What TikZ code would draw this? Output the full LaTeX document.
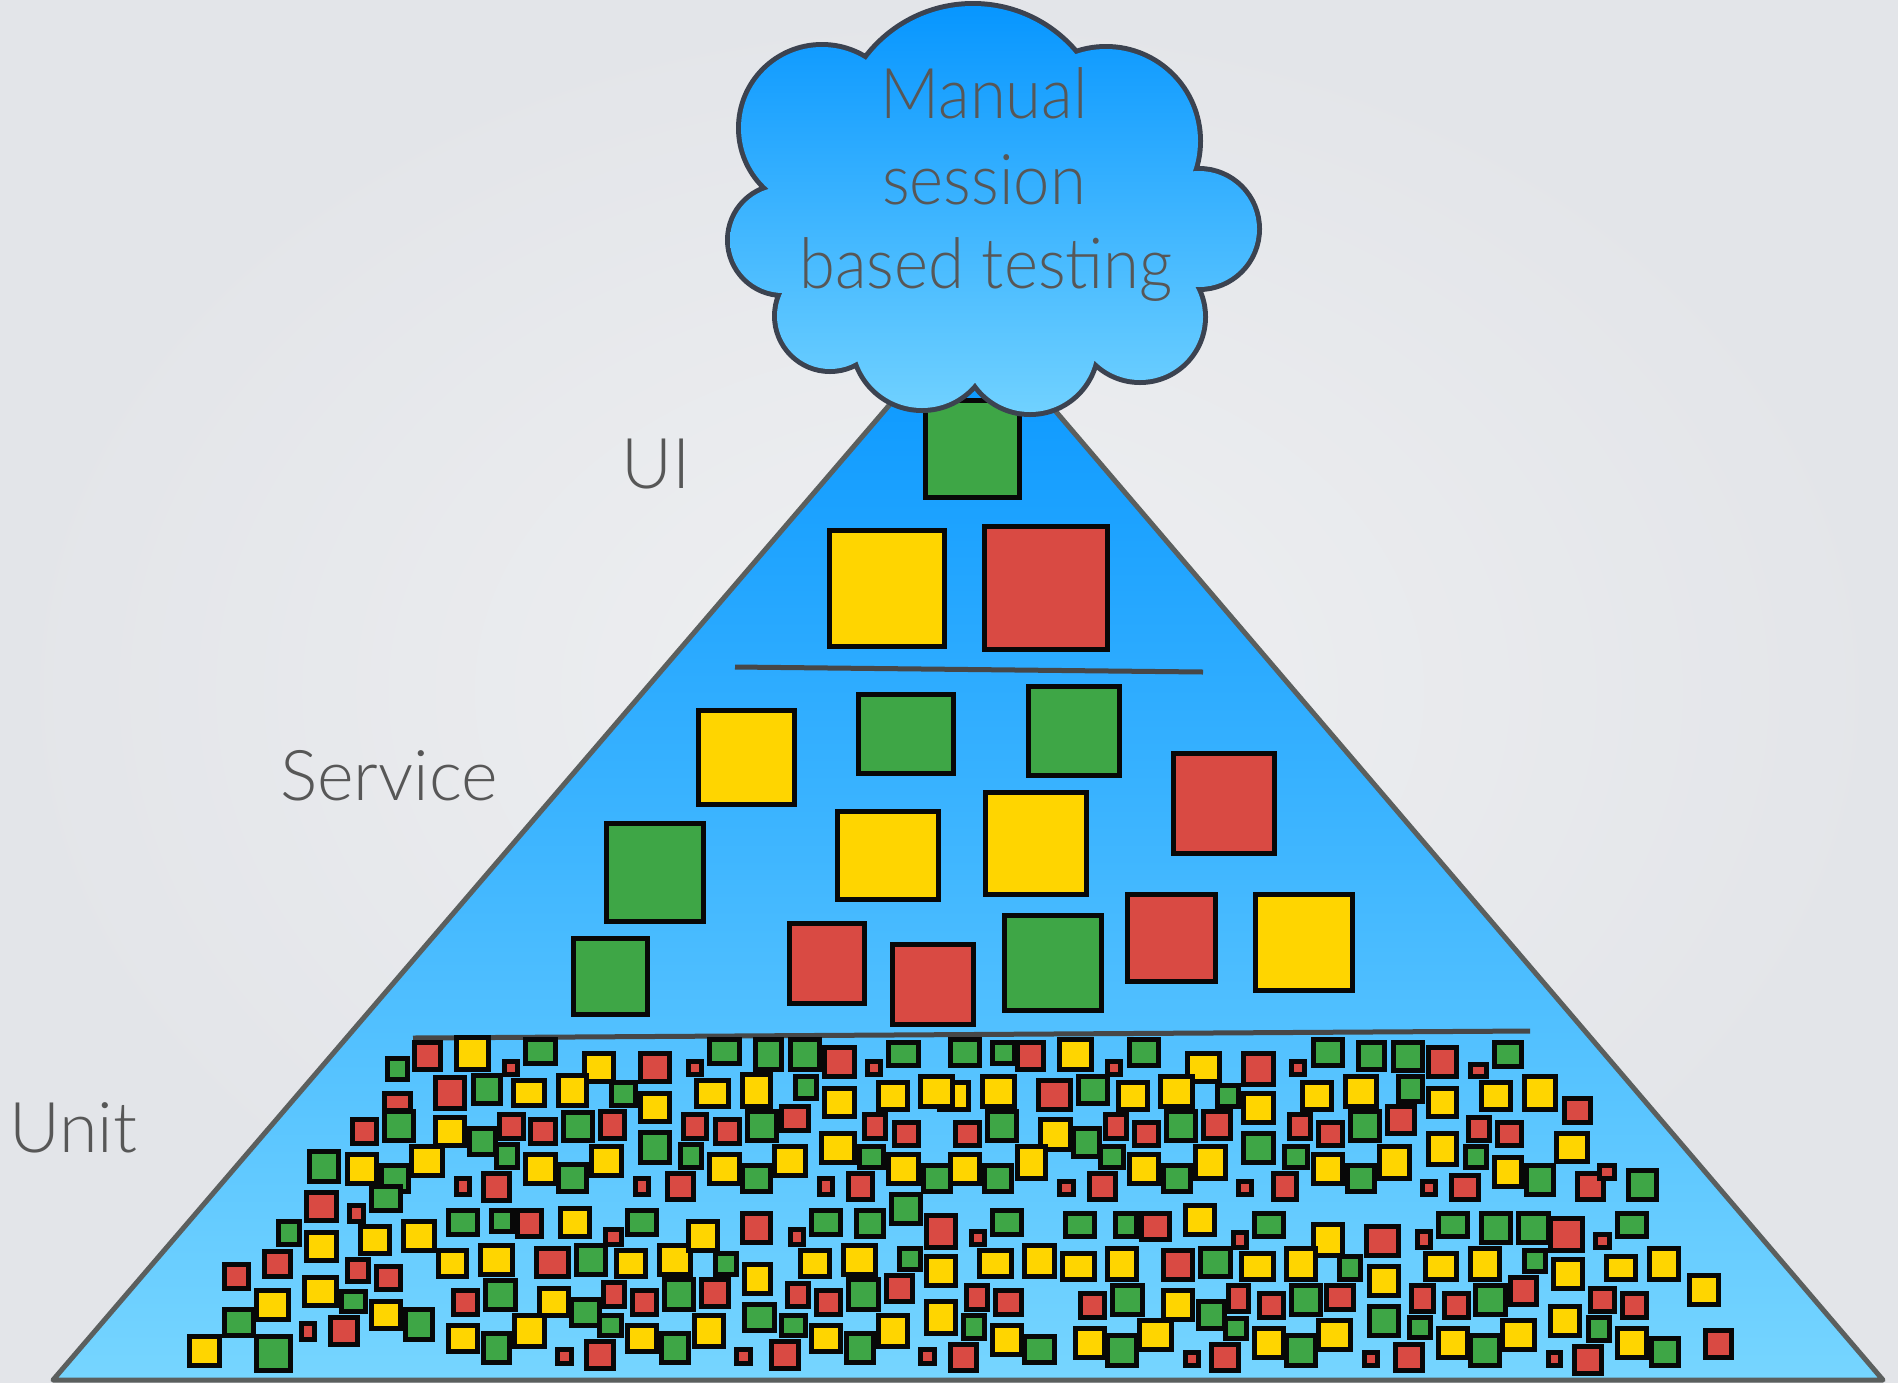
\documentclass[tikz,border=0pt]{standalone}
\usepackage{fontspec}
\setmainfont{Lato}[UprightFont={* Light}]
\newfontfamily\cloudfont{Lato}[UprightFont={* Light}, FakeStretch=0.93]
\definecolor{bgin}{HTML}{EFF0F2}
\definecolor{bgout}{HTML}{E3E5E9}
\definecolor{pyrtop}{HTML}{0796FF}
\definecolor{pyrbot}{HTML}{76D5FF}
\definecolor{cloudtop}{HTML}{0796FF}
\definecolor{cloudbot}{HTML}{70D1FF}
\definecolor{cloudline}{HTML}{3C4350}
\definecolor{edgegray}{HTML}{5B5F5E}
\definecolor{sepgray}{HTML}{474747}
\definecolor{txtgray}{HTML}{575757}
\definecolor{tg}{HTML}{3EA646}
\definecolor{ty}{HTML}{FFD500}
\definecolor{tr}{HTML}{D94A43}
\definecolor{tb}{HTML}{080808}
% one test tile: outer corners #1,#2 and #3,#4, fill #5; \ins is half the border width
\newcommand\tsq[5]{\draw[tile, fill=#5] ({#1+\ins},{#2+\ins}) rectangle ({#3-\ins},{#4-\ins});}
\begin{document}
\begin{tikzpicture}[x=1pt,y=-1pt,
  tile/.style={draw=tb, line width=5pt},
  edge/.style={draw=edgegray, line width=5pt, line join=round},
  sepline/.style={draw=sepgray, line width=5pt},
  lbl/.style={text=txtgray, inner sep=0pt, font=\fontsize{70}{85}\selectfont},
  cloudlbl/.style={lbl, font=\cloudfont\fontsize{70}{85}\selectfont}]
\useasboundingbox (0,0) rectangle (1898,1382);
\shade[inner color=bgin, outer color=bgout] (0,0) rectangle (1898,1382);

% pyramid
\coordinate (apex) at (970,311);
\coordinate (bl) at (53,1380);
\coordinate (br) at (1883,1380);
\shade[top color=pyrtop, bottom color=pyrbot] (apex) -- (bl) -- (br) -- cycle;
\draw[edge] (apex) -- (bl) -- (br) -- cycle;

% layer separators
\coordinate (s1a) at (735,667);
\coordinate (s1b) at (1203,672);
\coordinate (s2a) at (413,1038);
\coordinate (s2b) at (1530,1031);
\draw[sepline] (s1a) -- (s1b);
\draw[sepline] (s2a) -- (s2b);

% UI and service tests
\begin{scope}
\def\ins{2.5}
\tsq{923}{398}{1022}{500}{tg}
\tsq{827}{528}{947}{649}{ty}
\tsq{982}{524}{1110}{652}{tr}
\tsq{696}{708}{797}{807}{ty}
\tsq{856}{692}{956}{776}{tg}
\tsq{1026}{684}{1122}{778}{tg}
\tsq{1171}{751}{1277}{856}{tr}
\tsq{604}{821}{706}{924}{tg}
\tsq{835}{809}{941}{902}{ty}
\tsq{983}{790}{1089}{897}{ty}
\tsq{1125}{892}{1218}{984}{tr}
\tsq{1253}{892}{1355}{993}{ty}
\tsq{571}{936}{650}{1017}{tg}
\tsq{787}{921}{867}{1006}{tr}
\tsq{890}{942}{976}{1027}{tr}
\tsq{1002}{913}{1104}{1013}{tg}
\end{scope}

% unit tests, first quarter
\begin{scope}[shift={(180,1030)}, scale=1/3]
\def\ins{7.5}
\tsq{615}{78}{690}{155}{tg}
\tsq{695}{30}{788}{125}{tr}
\tsq{822}{15}{932}{125}{ty}
\tsq{965}{87}{1020}{140}{tr}
\tsq{1030}{22}{1133}{108}{tg}
\tsq{1205}{62}{1308}{162}{ty}
\tsq{607}{183}{700}{250}{tr}
\tsq{760}{135}{860}{243}{tr}
\tsq{872}{128}{970}{228}{tg}
\tsq{992}{143}{1100}{235}{ty}
\tsq{1128}{128}{1228}{235}{ty}
\tsq{607}{238}{707}{340}{tg}
\tsq{510}{262}{597}{348}{tr}
\tsq{760}{255}{860}{355}{ty}
\tsq{862}{288}{955}{380}{tg}
\tsq{950}{245}{1037}{333}{tr}
\tsq{1045}{262}{1133}{348}{tr}
\tsq{1142}{240}{1245}{340}{tg}
\tsq{943}{335}{1020}{420}{tg}
\tsq{382}{358}{483}{462}{tg}
\tsq{597}{400}{692}{492}{tg}
\tsq{495}{367}{597}{468}{ty}
\tsq{688}{343}{795}{445}{ty}
\tsq{822}{437}{877}{500}{tr}
\tsq{902}{422}{997}{518}{tr}
\tsq{1030}{367}{1133}{468}{ty}
\tsq{1127}{395}{1228}{492}{tg}
\tsq{1228}{342}{1332}{445}{ty}
\tsq{567}{462}{668}{548}{tg}
\tsq{373}{480}{477}{580}{tr}
\tsq{502}{518}{557}{582}{tr}
\tsq{797}{535}{900}{620}{tg}
\tsq{927}{535}{1005}{612}{tg}
\tsq{1005}{535}{1092}{628}{tr}
\tsq{1133}{527}{1237}{628}{ty}
\tsq{287}{568}{365}{652}{tg}
\tsq{373}{600}{477}{700}{ty}
\tsq{535}{583}{635}{678}{ty}
\tsq{663}{568}{772}{668}{ty}
\tsq{767}{655}{868}{748}{ty}
\tsq{895}{640}{1005}{740}{ty}
\tsq{1062}{648}{1172}{748}{tr}
\tsq{1183}{640}{1284}{740}{tg}
\tsq{247}{657}{340}{748}{tr}
\tsq{125}{695}{212}{782}{tr}
\tsq{495}{680}{572}{763}{tr}
\tsq{582}{703}{668}{787}{tr}
\tsq{367}{735}{477}{835}{ty}
\tsq{477}{777}{565}{852}{tg}
\tsq{813}{773}{900}{862}{tr}
\tsq{910}{743}{1013}{845}{tg}
\tsq{1070}{768}{1172}{865}{ty}
\tsq{1167}{800}{1266}{893}{tg}
\tsq{222}{775}{333}{877}{ty}
\tsq{125}{832}{228}{925}{tg}
\tsq{22}{912}{125}{1013}{ty}
\tsq{222}{912}{340}{1030}{tg}
\tsq{357}{872}{412}{935}{tr}
\tsq{445}{855}{540}{950}{tr}
\tsq{567}{807}{668}{902}{ty}
\tsq{668}{832}{765}{935}{tg}
\tsq{797}{880}{900}{973}{ty}
\tsq{902}{903}{997}{1005}{tg}
\tsq{997}{848}{1100}{957}{ty}
\tsq{1125}{952}{1182}{1007}{tr}
\tsq{1213}{927}{1308}{1022}{tr}
\end{scope}

% unit tests, second quarter
\begin{scope}[shift={(590,1030)}, scale=1/3]
\def\ins{7.5}
\tsq{145}{62}{247}{163}{tr}
\tsq{288}{87}{343}{140}{tr}
\tsq{352}{22}{455}{108}{tg}
\tsq{490}{22}{583}{125}{tg}
\tsq{593}{22}{695}{125}{tg}
\tsq{697}{45}{800}{148}{tr}
\tsq{825}{87}{880}{140}{tr}
\tsq{888}{30}{992}{115}{tg}
\tsq{1073}{22}{1177}{115}{tg}
\tsq{1200}{30}{1281}{108}{tg}
\tsq{57}{150}{143}{235}{tg}
\tsq{145}{183}{247}{283}{ty}
\tsq{313}{143}{422}{237}{ty}
\tsq{450}{127}{550}{237}{ty}
\tsq{608}{133}{688}{212}{tg}
\tsq{697}{167}{800}{268}{ty}
\tsq{858}{150}{960}{245}{ty}
\tsq{1040}{150}{1143}{245}{ty}
\tsq{985}{133}{1095}{237}{ty}
\tsq{1170}{133}{1281}{237}{ty}
\tsq{25}{238}{110}{332}{tr}
\tsq{273}{247}{358}{332}{tr}
\tsq{368}{262}{455}{348}{tr}
\tsq{465}{238}{567}{340}{tg}
\tsq{568}{222}{663}{308}{tr}
\tsq{817}{245}{895}{332}{tr}
\tsq{905}{270}{992}{355}{tr}
\tsq{1088}{270}{1175}{355}{tr}
\tsq{1185}{237}{1287}{340}{tg}
\tsq{145}{300}{247}{405}{tg}
\tsq{265}{335}{343}{420}{tg}
\tsq{352}{367}{455}{468}{ty}
\tsq{450}{400}{550}{492}{tg}
\tsq{545}{343}{655}{445}{ty}
\tsq{688}{303}{800}{405}{ty}
\tsq{800}{343}{888}{420}{tg}
\tsq{888}{367}{992}{468}{ty}
\tsq{992}{400}{1088}{492}{tg}
\tsq{1073}{367}{1177}{468}{ty}
\tsq{1177}{400}{1272}{492}{tg}
\tsq{128}{437}{183}{500}{tr}
\tsq{225}{422}{318}{517}{tr}
\tsq{680}{437}{735}{500}{tr}
\tsq{768}{422}{855}{517}{tr}
\tsq{897}{487}{1000}{588}{tg}
\tsq{105}{535}{207}{620}{tg}
\tsq{40}{590}{102}{652}{tr}
\tsq{450}{543}{550}{645}{tr}
\tsq{593}{590}{647}{652}{tr}
\tsq{657}{535}{760}{620}{tg}
\tsq{793}{535}{887}{628}{tg}
\tsq{1002}{550}{1103}{660}{tr}
\tsq{1137}{598}{1192}{652}{tr}
\tsq{1200}{535}{1303}{620}{tg}
\tsq{72}{655}{175}{748}{ty}
\tsq{200}{640}{310}{740}{ty}
\tsq{288}{567}{390}{668}{ty}
\tsq{370}{662}{447}{740}{tg}
\tsq{457}{695}{550}{797}{ty}
\tsq{625}{655}{727}{748}{ty}
\tsq{753}{640}{863}{740}{ty}
\tsq{922}{648}{1000}{725}{tg}
\tsq{1002}{672}{1103}{773}{ty}
\tsq{1162}{655}{1272}{748}{ty}
\tsq{33}{750}{110}{838}{tr}
\tsq{120}{775}{207}{862}{tr}
\tsq{215}{742}{318}{845}{tg}
\tsq{328}{742}{423}{838}{tr}
\tsq{585}{752}{663}{838}{tr}
\tsq{672}{775}{760}{862}{tr}
\tsq{768}{742}{872}{845}{tg}
\tsq{882}{728}{975}{822}{tr}
\tsq{1122}{760}{1200}{845}{tr}
\tsq{1210}{775}{1303}{862}{tr}
\tsq{20}{848}{102}{925}{tg}
\tsq{105}{880}{207}{973}{ty}
\tsq{208}{903}{303}{1005}{tg}
\tsq{305}{848}{408}{957}{ty}
\tsq{457}{815}{560}{910}{tg}
\tsq{568}{848}{655}{925}{tg}
\tsq{657}{880}{760}{973}{ty}
\tsq{762}{903}{857}{1005}{tg}
\tsq{857}{848}{960}{957}{ty}
\tsq{1002}{808}{1103}{918}{ty}
\tsq{1113}{848}{1192}{932}{tg}
\tsq{1200}{880}{1303}{982}{ty}
\tsq{432}{952}{488}{1007}{tr}
\tsq{537}{927}{632}{1022}{tr}
\tsq{985}{952}{1040}{1007}{tr}
\tsq{1073}{935}{1168}{1030}{tr}
\end{scope}

% unit tests, third quarter
\begin{scope}[shift={(1000,1030)}, scale=1/3]
\def\ins{7.5}
\tsq{45}{30}{137}{125}{tr}
\tsq{172}{22}{282}{125}{ty}
\tsq{315}{87}{370}{140}{tr}
\tsq{380}{22}{482}{115}{tg}
\tsq{555}{62}{665}{163}{ty}
\tsq{723}{62}{827}{172}{tr}
\tsq{868}{87}{922}{140}{tr}
\tsq{932}{22}{1035}{115}{tg}
\tsq{1068}{30}{1162}{125}{tg}
\tsq{1172}{30}{1275}{130}{tg}
\tsq{108}{143}{218}{245}{tr}
\tsq{228}{133}{330}{228}{tg}
\tsq{347}{150}{450}{245}{ty}
\tsq{475}{133}{585}{237}{ty}
\tsq{645}{158}{723}{237}{tg}
\tsq{723}{182}{827}{285}{ty}
\tsq{900}{150}{1003}{245}{ty}
\tsq{1030}{133}{1138}{237}{ty}
\tsq{1188}{133}{1275}{222}{tg}
\tsq{115}{262}{218}{365}{ty}
\tsq{212}{287}{305}{388}{tg}
\tsq{308}{245}{387}{332}{tr}
\tsq{395}{270}{482}{355}{tr}
\tsq{492}{238}{595}{340}{tg}
\tsq{603}{238}{698}{332}{tr}
\tsq{860}{245}{938}{332}{tr}
\tsq{948}{270}{1035}{355}{tr}
\tsq{1045}{238}{1147}{340}{tg}
\tsq{1155}{222}{1250}{318}{tr}
\tsq{45}{343}{145}{453}{ty}
\tsq{293}{343}{378}{420}{tg}
\tsq{380}{367}{483}{468}{ty}
\tsq{483}{400}{578}{492}{tg}
\tsq{580}{343}{683}{453}{ty}
\tsq{723}{303}{827}{405}{tg}
\tsq{845}{343}{930}{420}{tg}
\tsq{932}{367}{1035}{468}{ty}
\tsq{1035}{400}{1130}{492}{tg}
\tsq{1132}{343}{1235}{453}{ty}
\tsq{172}{447}{227}{502}{tr}
\tsq{260}{422}{353}{517}{tr}
\tsq{708}{447}{763}{502}{tr}
\tsq{812}{422}{898}{517}{tr}
\tsq{188}{543}{290}{628}{tg}
\tsq{340}{543}{418}{628}{tg}
\tsq{418}{543}{515}{637}{tr}
\tsq{548}{520}{650}{620}{ty}
\tsq{692}{600}{746}{660}{tr}
\tsq{757}{543}{858}{628}{tg}
\tsq{932}{575}{1035}{685}{ty}
\tsq{1092}{583}{1202}{685}{tr}
\tsq{67}{640}{170}{748}{ty}
\tsq{180}{662}{290}{757}{ty}
\tsq{315}{648}{418}{757}{ty}
\tsq{483}{655}{585}{757}{tr}
\tsq{595}{648}{698}{748}{tg}
\tsq{717}{662}{827}{757}{ty}
\tsq{852}{648}{953}{757}{ty}
\tsq{1012}{672}{1090}{757}{tg}
\tsq{1100}{703}{1202}{805}{ty}
\tsq{235}{783}{322}{870}{tr}
\tsq{330}{758}{435}{862}{tg}
\tsq{483}{775}{585}{877}{ty}
\tsq{677}{758}{752}{852}{tr}
\tsq{588}{808}{680}{902}{tg}
\tsq{668}{858}{747}{932}{tg}
\tsq{772}{783}{858}{870}{tr}
\tsq{868}{758}{970}{862}{tg}
\tsq{972}{758}{1067}{845}{tr}
\tsq{1100}{822}{1202}{925}{tg}
\tsq{67}{912}{170}{1005}{tg}
\tsq{220}{887}{322}{990}{ty}
\tsq{315}{910}{418}{1013}{tg}
\tsq{412}{863}{522}{965}{ty}
\tsq{548}{960}{603}{1013}{tr}
\tsq{628}{935}{722}{1030}{tr}
\tsq{757}{887}{858}{990}{ty}
\tsq{852}{910}{955}{1013}{tg}
\tsq{948}{863}{1058}{965}{ty}
\tsq{1085}{960}{1140}{1013}{tr}
\tsq{1180}{935}{1275}{1030}{tr}
\end{scope}

% unit tests, last quarter
\begin{scope}[shift={(1400,1030)}, scale=1/3]
\def\ins{7.5}
\tsq{78}{45}{178}{148}{tr}
\tsq{205}{95}{267}{148}{tr}
\tsq{277}{30}{372}{117}{tg}
\tsq{78}{167}{178}{268}{ty}
\tsq{237}{150}{338}{245}{ty}
\tsq{365}{133}{475}{245}{ty}
\tsq{485}{198}{578}{285}{tr}
\tsq{197}{255}{275}{340}{tr}
\tsq{285}{270}{372}{355}{tr}
\tsq{78}{303}{178}{412}{ty}
\tsq{188}{343}{267}{420}{tg}
\tsq{277}{375}{372}{477}{ty}
\tsq{372}{400}{467}{500}{tg}
\tsq{462}{303}{570}{403}{ty}
\tsq{525}{422}{618}{517}{tr}
\tsq{590}{398}{650}{453}{tr}
\tsq{677}{415}{778}{517}{tg}
\tsq{60}{447}{115}{500}{tr}
\tsq{148}{430}{242}{517}{tr}
\tsq{108}{543}{210}{628}{tg}
\tsq{237}{543}{340}{645}{tg}
\tsq{348}{543}{452}{645}{tg}
\tsq{445}{558}{555}{668}{tr}
\tsq{580}{607}{635}{660}{tr}
\tsq{645}{543}{747}{628}{tg}
\tsq{45}{598}{100}{660}{tr}
\tsq{68}{662}{178}{757}{ty}
\tsq{205}{648}{307}{757}{ty}
\tsq{365}{655}{443}{733}{tg}
\tsq{453}{680}{555}{782}{ty}
\tsq{612}{672}{715}{757}{ty}
\tsq{742}{648}{843}{757}{ty}
\tsq{862}{728}{963}{830}{ty}
\tsq{28}{758}{108}{852}{tr}
\tsq{125}{783}{212}{870}{tr}
\tsq{220}{758}{323}{862}{tg}
\tsq{325}{735}{418}{830}{tr}
\tsq{565}{768}{650}{852}{tr}
\tsq{660}{783}{747}{870}{tr}
\tsq{20}{855}{98}{930}{tg}
\tsq{108}{887}{210}{990}{ty}
\tsq{205}{910}{307}{1013}{tg}
\tsq{300}{863}{410}{965}{ty}
\tsq{445}{823}{547}{925}{ty}
\tsq{557}{855}{635}{940}{tg}
\tsq{645}{887}{747}{990}{ty}
\tsq{748}{918}{843}{1013}{tg}
\tsq{908}{895}{1003}{990}{tr}
\tsq{437}{960}{490}{1013}{tr}
\tsq{517}{943}{612}{1038}{tr}
\end{scope}

% cloud: union of lobes, outline first, then the shaded fill on top
\def\cloudlobes{
  (973,139) circle[radius=133]
  (1106,141) circle[radius=92]
  (1199,229) circle[radius=58]
  (1140,317) circle[radius=63]
  (1030,346) circle[radius=66]
  (922,340) circle[radius=68]
  (830,316) circle[radius=53]
  (783,240) circle[radius=53]
  (822,128) circle[radius=81]
  (975,232) ellipse[x radius=168, y radius=112]
  (1140,255) circle[radius=35]
  (820,232) circle[radius=48]}
\draw[draw=cloudline, line width=10pt] \cloudlobes;
\shade[top color=cloudtop, bottom color=cloudbot] \cloudlobes;

% texts
\node[cloudlbl, anchor=base] (t1) at (984,118.5) {Manual};
\node[cloudlbl, anchor=base] (t2) at (984,204) {session};
\node[cloudlbl, anchor=base] (t3) at (986,288.5) {based testing};
\node[lbl, anchor=base west] (ui) at (621,488) {UI};
\node[lbl, anchor=base west] (service) at (280,800) {Service};
\node[lbl, anchor=base west] (unit) at (9,1152) {Unit};
\end{tikzpicture}
\end{document}
